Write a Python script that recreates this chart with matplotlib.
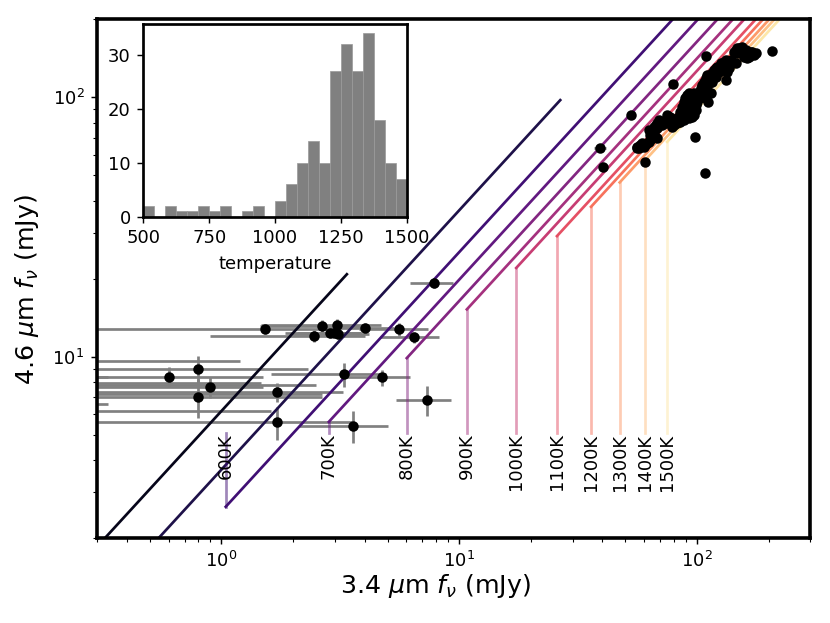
import numpy as np
from matplotlib import pyplot as plt

# colour-temperature tracks (start of diagonal, end of diagonal)
temps = [400, 500, 600, 700, 800, 900, 1000, 1100, 1200, 1300, 1400, 1500]
track_x0 = [0.0337, 0.266, 1.043, 2.83, 6.02, 10.77, 17.37, 25.77, 35.84, 47.3, 60.5, 74.9]
track_y0 = [0.208, 0.976, 2.64, 5.61, 9.88, 15.23, 22.0, 29.19, 37.86, 47.0, 57.2, 67.4]
track_x1 = [3.37, 26.6, 104.3, 283, 602, 1077, 1737, 2577, 3584, 4730, 6050, 7490]
track_y1 = [20.8, 97.6, 264, 561, 988, 1523, 2200, 2919, 3786, 4700, 5720, 6740]
labelled = [600, 700, 800, 900, 1000, 1100, 1200, 1300, 1400, 1500]
label_y = 5.06

# faint sources (3.4um, 4.6um fluxes in mJy, with errors)
faint_x = [1.52, 2.65, 3.07, 2.45, 2.86, 2.97, 3.08, 4.02, 5.60, 6.46, 7.84,
           0.60, 0.80, 0.90, 0.80, 1.72, 1.72, 3.27, 4.75, 3.58, 7.30,
           0.20, 0.20, 0.20, 0.25, 0.20, 0.15, 0.20]
faint_y = [12.79, 13.16, 13.24, 12.04, 12.3, 12.4, 12.2, 12.87, 12.76, 11.88, 19.23,
           8.37, 8.96, 7.66, 6.99, 7.29, 5.58, 8.55, 8.32, 5.42, 6.81,
           9.65, 8.35, 7.89, 7.78, 7.16, 6.55, 6.17]
faint_xerr = [1.3, 1.2, 1.6, 1.55, 1.0, 0.9, 1.1, 1.3, 1.8, 1.8, 1.6,
              0.9, 1.52, 0.6, 1.84, 1.53, 1.81, 1.65, 1.46, 1.46, 1.9,
              1.0, 0.134, 1.27, 2.26, 2.44, 0.184, 1.41]
faint_yerr = [0.6, 0.7, 0.7, 0.6, 0.5, 0.5, 0.5, 0.6, 0.7, 0.6, 0.9,
              0.75, 1.1, 0.7, 1.2, 0.6, 0.8, 0.9, 0.6, 0.75, 0.9,
              0, 0, 0, 0, 0, 0, 0]

# bright sources
bright_x = [207.4, 109.6, 79.4, 53.0, 39.2, 40.1, 60.7, 97.6, 107.9, 146.3, 131.8, 111.5, 67.6, 56.0,
            56.0, 57.8, 59.7, 61.7, 62.7, 63.7, 64.7, 62.7, 65.8, 68.0, 69.1, 66.9, 71.4, 73.7,
            76.1, 77.3, 74.9, 78.6, 79.9, 81.2, 82.5, 85.2, 86.6, 88.0, 89.4, 90.9, 92.4, 93.9,
            95.4, 97.0, 98.6, 95.4, 92.4, 89.4, 86.6, 90.9, 93.9, 98.6, 100.2, 101.8, 103.5, 105.1,
            106.9, 108.6, 110.4, 112.2, 114.0, 115.8, 117.7, 119.7, 121.6, 123.6, 125.6, 127.6,
            129.7, 131.9, 134.0, 136.2, 140.7, 114.0, 110.4, 108.6, 105.1, 145.3, 150.1, 155.0,
            157.5, 160.1, 165.3, 170.7, 176.4, 162.7, 152.5, 147.7,
            85.2, 88.0, 89.4, 92.4, 95.4, 97.0, 89.4, 92.4, 95.4, 97.0, 88.0, 85.2, 98.6, 100.2,
            101.8, 98.6, 82.5, 85.2, 106.9, 108.6, 110.4, 112.2, 114.0, 115.8, 117.7, 119.7,
            121.6, 123.6, 125.6, 127.6, 131.9, 136.2, 138.4, 56.9, 58.8, 60.7, 63.7, 64.7, 65.8,
            68.0, 70.2, 72.5, 74.9, 77.3, 79.9, 143.0, 147.7, 155.0, 160.1, 168.0, 173.5, 165.3,
            157.5]
bright_y = [151.2, 144.3, 112.2, 85.5, 63.6, 53.7, 56.3, 70.5, 50.9, 135.2, 116.6, 96.2, 69.8, 64.1,
            64.0, 65.5, 64.5, 66.5, 67.5, 71.6, 73.7, 74.8, 77.1, 79.4, 81.7, 78.2, 78.2, 79.4,
            81.7, 84.2, 85.5, 77.1, 78.2, 80.6, 83.0, 88.0, 92.0, 96.2, 99.1, 102.1, 103.6, 99.1,
            96.2, 92.0, 89.4, 84.2, 83.0, 85.5, 84.2, 93.4, 89.4, 97.6, 102.1, 105.1, 108.3, 111.6,
            114.9, 118.4, 121.9, 113.2, 116.6, 123.7, 127.4, 129.3, 125.6, 131.3, 129.3, 133.2,
            137.2, 139.3, 125.6, 129.3, 135.2, 103.6, 106.7, 99.1, 100.6, 152.2, 154.5, 156.7,
            150.0, 145.6, 147.7, 150.0, 147.7, 141.3, 147.7, 147.7,
            83.0, 81.7, 89.4, 86.8, 88.0, 85.5, 94.8, 96.2, 100.6, 103.6, 92.0, 85.5, 102.1, 96.2,
            99.1, 93.4, 79.4, 80.6, 108.3, 111.6, 114.9, 118.4, 120.1, 114.9, 121.9, 120.1,
            131.3, 125.6, 135.2, 127.4, 133.2, 135.2, 139.3, 63.6, 66.5, 65.5, 68.5, 70.5, 72.6,
            75.9, 79.4, 80.6, 83.0, 80.6, 81.7, 150.0, 154.5, 152.2, 152.2, 150.0, 145.6, 143.5,
            143.5]
bright_xerr = [0] * len(bright_x)
bright_xerr[4] = 2.2

# temperature histogram
hist_edges = np.linspace(500, 1500, 25)
hist_counts = [2, 0, 2, 1, 1, 2, 1, 2, 0, 1, 2, 0, 3, 6, 10, 14, 10, 27, 32, 27, 34, 18, 10, 7]

fig = plt.figure(figsize=(8.3 / 1.3, 6.23 / 1.3), dpi=130)
ax = fig.add_axes([0.1169, 0.1364, 0.8596, 0.8326])
ax.set_xscale('log')
ax.set_yscale('log')

ax.errorbar(faint_x, faint_y, xerr=faint_xerr, yerr=faint_yerr, fmt='none',
            ecolor='gray', elinewidth=1.5, zorder=1)
ax.errorbar(bright_x, bright_y, xerr=bright_xerr, fmt='none',
            ecolor='gray', elinewidth=1.5, zorder=1)

colours = plt.cm.magma(np.linspace(0.05, 0.95, len(temps)))
for i, T in enumerate(temps):
    ax.plot([track_x0[i], track_x1[i]], [track_y0[i], track_y1[i]], color=colours[i], lw=1.5, zorder=2)
    ax.plot([track_x0[i], track_x0[i]], [label_y, track_y0[i]], color=colours[i], lw=1.5, alpha=0.5, zorder=2)
    if T in labelled:
        ax.text(track_x0[i], label_y, f'{T}K', rotation=90, ha='center', va='top', fontsize=10)

ax.plot(faint_x, faint_y, 'o', color='black', ms=4.8, zorder=3)
ax.plot(bright_x, bright_y, 'o', color='black', ms=4.8, zorder=3)

ax.set_xlim(0.3, 300)
ax.set_ylim(2, 200)
ax.set_xlabel(r'3.4 $\mu$m $f_\nu$ (mJy)', fontsize=14)
ax.set_ylabel(r'4.6 $\mu$m $f_\nu$ (mJy)', fontsize=14)
ax.xaxis.set_label_coords(0.474, -0.066)
ax.yaxis.set_label_coords(-0.078, 0.478)
for s in ax.spines.values():
    s.set_linewidth(2)

axin = fig.add_axes([0.1727, 0.6522, 0.3173, 0.3088])
axin.hist(hist_edges[:-1], bins=hist_edges, weights=hist_counts, color='gray',
          edgecolor='#9a9a9a', linewidth=0.4)
axin.set_xlim(500, 1500)
axin.set_xticks([500, 750, 1000, 1250, 1500])
axin.set_yticks([0, 10, 20, 30])
axin.set_xlabel('temperature')
for s in axin.spines.values():
    s.set_linewidth(1.5)

fig.savefig('out.png', dpi=130)
